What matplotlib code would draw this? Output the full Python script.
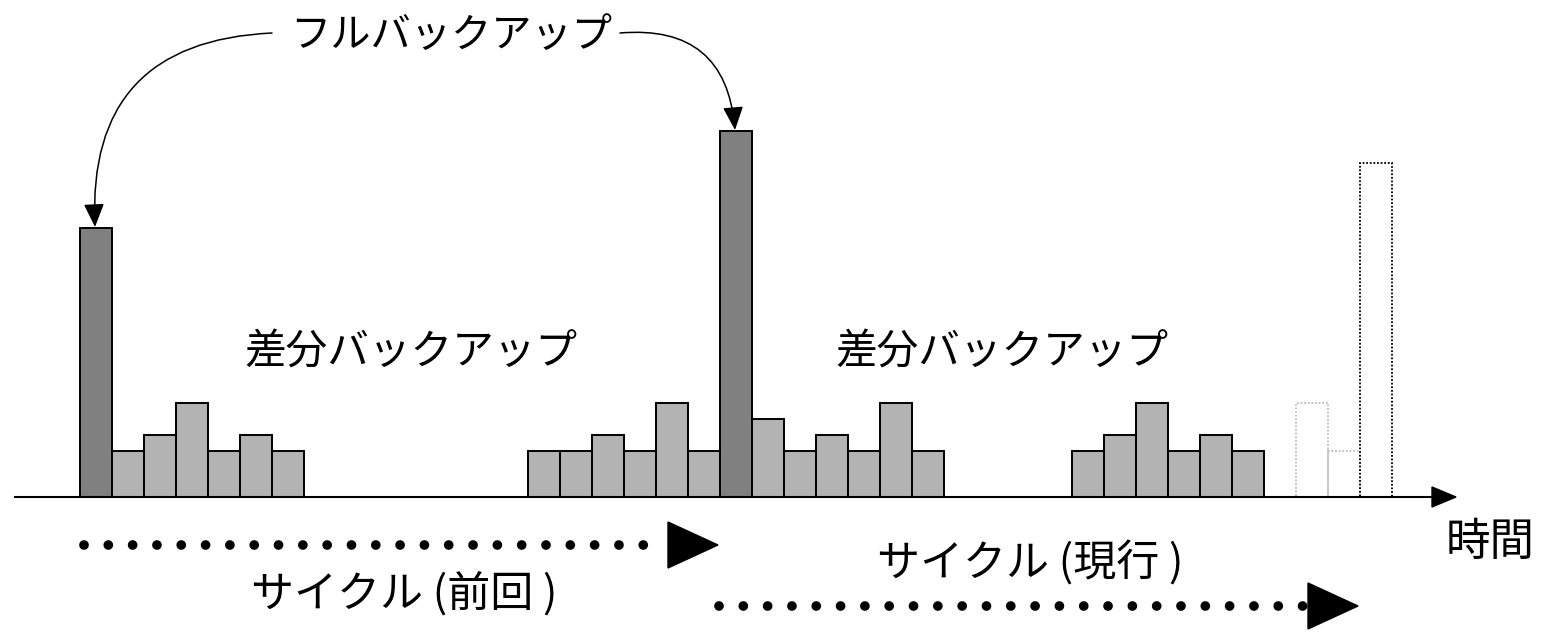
import matplotlib
matplotlib.use("Agg")
import matplotlib.pyplot as plt
from matplotlib.patches import Polygon

plt.rcParams['font.family'] = ['Noto Sans CJK JP', 'DejaVu Sans']

# bar slots (one slot = one backup day) and heights above the time axis
full_slots = [0, 20]
full_heights = [269, 366]

diff_slots = [1, 2, 3, 4, 5, 6,
              14, 15, 16, 17, 18, 19,
              21, 22, 23, 24, 25, 26,
              31, 32, 33, 34, 35, 36]
diff_heights = [46, 62, 94, 46, 62, 46,
                46, 46, 62, 46, 94, 46,
                78, 46, 62, 46, 94, 46,
                46, 62, 94, 46, 62, 46]

future_slots = [38, 39, 40]
future_heights = [94, 46, 334]
future_colors = ['#bdbdbd', '#bdbdbd', 'black']

label_full = "フルバックアップ"
label_diff = "差分バックアップ"
label_prev = "サイクル (前回 )"
label_curr = "サイクル (現行 )"
label_time = "時間"

W, H = 1542, 632
fig = plt.figure(figsize=(W / 100, H / 100), dpi=100)
ax = fig.add_axes([0, 0, 1, 1])
ax.set_xlim(0, W)
ax.set_ylim(-(H - 497), 497)
ax.axis('off')

x0, bw = 80, 32


def slot_x(s):
    return x0 + bw * s


ax.bar([slot_x(s) for s in full_slots], full_heights, width=bw, align='edge',
       color='#808080', edgecolor='black', linewidth=1.4, zorder=3)
ax.bar([slot_x(s) for s in diff_slots], diff_heights, width=bw, align='edge',
       color='#b3b3b3', edgecolor='black', linewidth=1.4, zorder=3)
for s, h, c in zip(future_slots, future_heights, future_colors):
    ax.bar(slot_x(s), h, width=bw, align='edge', facecolor='none',
           edgecolor=c, linewidth=1.3, linestyle=(0, (1, 1)), zorder=2)

# time axis with arrow
ax.plot([15, 1435], [0, 0], color='black', linewidth=1.5, zorder=4)
ax.add_patch(Polygon([[1432, 10], [1432, -10], [1456, 0]], closed=True,
                     color='black', zorder=4))
ax.text(1490, 497 - 542, label_time, fontsize=32, ha='center', va='center')

# curved arrows from the full-backup label
head = dict(arrowstyle='-|>,head_length=0.8,head_width=0.35', color='black',
            linewidth=1.1, mutation_scale=18, shrinkA=0, shrinkB=0)
ax.annotate("", xy=(slot_x(0) + bw / 2 - 1, full_heights[0] + 1),
            xytext=(272, 497 - 33),
            arrowprops=dict(connectionstyle='arc3,rad=0.5', **head))
ax.annotate("", xy=(slot_x(20) + bw / 2 - 1, full_heights[1] + 1),
            xytext=(620, 497 - 33),
            arrowprops=dict(connectionstyle='arc3,rad=-0.5', **head))
ax.text(451, 497 - 35, label_full, fontsize=29, ha='center', va='center')

ax.text(411, 497 - 352, label_diff, fontsize=30, ha='center', va='center')
ax.text(1002, 497 - 352, label_diff, fontsize=30, ha='center', va='center')

# cycle arrows (dotted)
for (xa, xb, y) in [(84, 665, 497 - 545), (719, 1305, 497 - 606)]:
    ax.plot([xa, xb], [y, y], color='black', linewidth=7.0,
            linestyle=(0, (0.001, 2.5)), dash_capstyle='round')
    ax.add_patch(Polygon([[xb + 3, y + 23], [xb + 3, y - 23], [xb + 53, y]],
                         closed=True, color='black'))

ax.text(404, 497 - 594, label_prev, fontsize=31, ha='center', va='center')
ax.text(1030, 497 - 564, label_curr, fontsize=31, ha='center', va='center')

fig.savefig("out.png", dpi=100)
